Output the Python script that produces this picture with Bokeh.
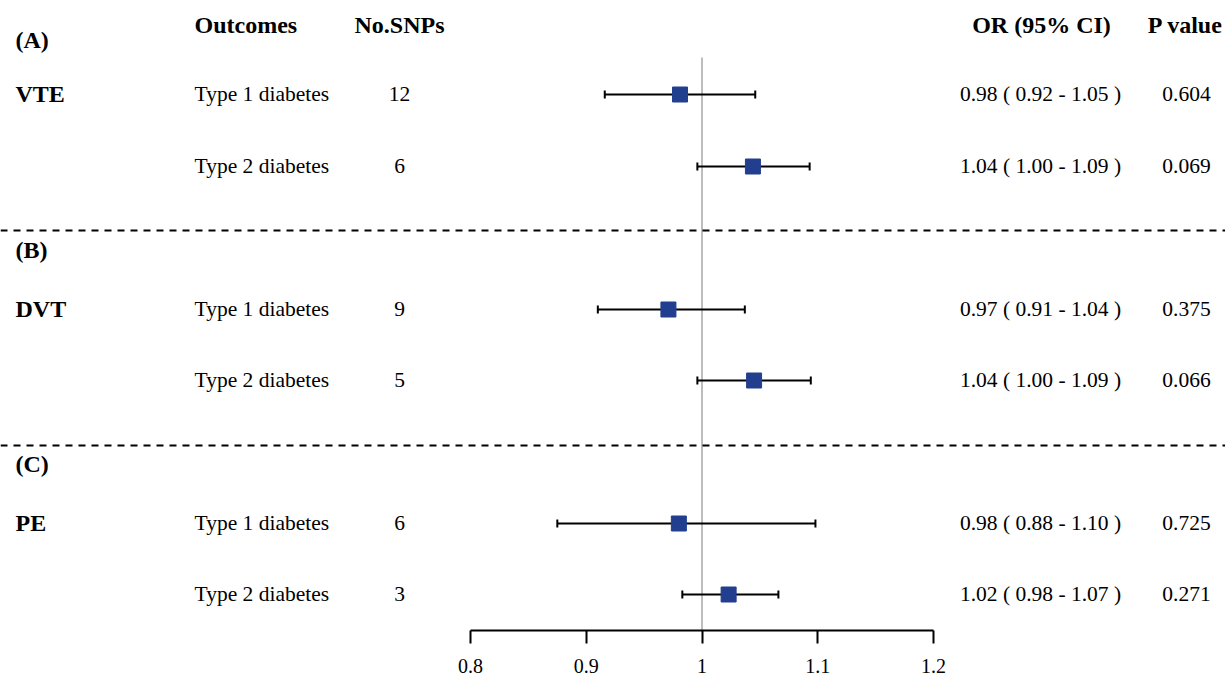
from bokeh.plotting import figure
from bokeh.models import Range1d, LinearAxis, FixedTicker, Span, ColumnDataSource
from bokeh.core.properties import value
from bokeh.embed import file_html
from bokeh.resources import INLINE

# ---------------- data ----------------
panels = ["(A)", "(B)", "(C)"]
outcomes = ["VTE", "DVT", "PE"]
exposures = ["Type 1 diabetes", "Type 2 diabetes",
             "Type 1 diabetes", "Type 2 diabetes",
             "Type 1 diabetes", "Type 2 diabetes"]
n_snps = ["12", "6", "9", "5", "6", "3"]
or_est = [0.981, 1.044, 0.971, 1.045, 0.980, 1.023]
ci_low = [0.916, 0.996, 0.910, 0.996, 0.875, 0.983]
ci_high = [1.046, 1.093, 1.037, 1.094, 1.098, 1.066]
or_labels = ["0.98 ( 0.92 - 1.05 )", "1.04 ( 1.00 - 1.09 )",
             "0.97 ( 0.91 - 1.04 )", "1.04 ( 1.00 - 1.09 )",
             "0.98 ( 0.88 - 1.10 )", "1.02 ( 0.98 - 1.07 )"]
p_values = ["0.604", "0.069", "0.375", "0.066", "0.725", "0.271"]
headers = ["Outcomes", "No.SNPs", "OR (95% CI)", "P value"]
tick_values = [0.8, 0.9, 1.0, 1.1, 1.2]
tick_labels = ["0.8", "0.9", "1", "1.1", "1.2"]

# ---------------- layout ----------------
W, H = 1225, 678
PX_PER_UNIT = 1157.5         # pixels per OR unit
ONE_PX = 701.5               # picture x of OR = 1


def xd(px):
    """picture pixel x -> OR data x"""
    return 1 + (px - ONE_PX) / PX_PER_UNIT


row_y = [94, 166, 309, 380, 523, 594]       # picture y of rows
group_row = [0, 2, 4]
panel_base = [39, 249, 463]
sep_y = [230, 445]
AXIS_Y = 630
SERIF = "Liberation Serif"

p = figure(width=W, height=H, output_backend="svg", toolbar_location=None,
           x_range=Range1d(xd(0), xd(W)),
           y_range=Range1d(AXIS_Y, 0),
           x_axis_location=None, y_axis_location=None,
           min_border_left=0, min_border_right=0, min_border_top=0,
           min_border_bottom=H - AXIS_Y)
p.outline_line_color = None
p.xgrid.visible = False
p.ygrid.visible = False
p.background_fill_color = "white"
p.border_fill_color = "white"

# axis
ax = LinearAxis(ticker=FixedTicker(ticks=tick_values), bounds=(0.8, 1.2))
ax.major_label_overrides = {t: l for t, l in zip(tick_values, tick_labels)}
ax.axis_line_width = 2
ax.axis_line_color = "black"
ax.major_tick_line_width = 2
ax.major_tick_line_color = "black"
ax.major_tick_out = 13
ax.major_tick_in = 0
ax.minor_tick_out = 0
ax.minor_tick_in = 0
ax.major_label_standoff = 15
ax.major_label_text_font = SERIF
ax.major_label_text_font_size = "20px"
ax.major_label_text_color = "black"
p.add_layout(ax, "below")

# reference line at OR = 1
p.segment(x0=[1.0], x1=[1.0], y0=[57], y1=[AXIS_Y], line_color="#bdbdbd", line_width=2)

# separators
for yy in sep_y:
    p.add_layout(Span(location=yy, dimension="width", line_color="black",
                      line_width=2, line_dash="7 6"))

src = ColumnDataSource(dict(
    y=row_y, est=or_est, lo=ci_low, hi=ci_high,
    cap0=[v - 4 for v in row_y], cap1=[v + 4 for v in row_y],
    base=[v - 1 for v in row_y],
    exp=exposures, n=n_snps, orl=or_labels, pv=p_values,
))

# CI lines and caps
p.segment(x0="lo", x1="hi", y0="y", y1="y", source=src, line_color="black", line_width=2)
p.segment(x0="lo", x1="lo", y0="cap0", y1="cap1", source=src, line_color="black", line_width=2)
p.segment(x0="hi", x1="hi", y0="cap0", y1="cap1", source=src, line_color="black", line_width=2)
p.scatter(x="est", y="y", source=src, marker="square", size=15,
          fill_color="#223f8f", line_color="#223f8f")

reg = dict(text_font=value(SERIF), text_font_size="21.5px", text_color="black",
           text_baseline="alphabetic")
p.text(x=xd(194), y="base", text="exp", source=src, text_align="left", **reg)
p.text(x=xd(399), y="base", text="n", source=src, text_align="center", **reg)
p.text(x=xd(1040), y="base", text="orl", source=src, text_align="center", **reg)
p.text(x=xd(1186), y="base", text="pv", source=src, text_align="center", **reg)

bold = dict(text_font=value(SERIF), text_font_size="24px", text_color="black",
            text_font_style="bold", text_baseline="alphabetic")
p.text(x=[xd(194)], y=[24], text=[headers[0]], text_align="left", **bold)
p.text(x=[xd(399), xd(1041), xd(1185)], y=[24, 24, 24], text=headers[1:],
       text_align="center", **bold)
p.text(x=[xd(15)] * 3, y=panel_base, text=panels, text_align="left", **bold)
p.text(x=[xd(15)] * 3, y=[row_y[i] - 1 for i in group_row], text=outcomes,
       text_align="left", **bold)

open("out.html", "w").write(file_html(p, INLINE))
